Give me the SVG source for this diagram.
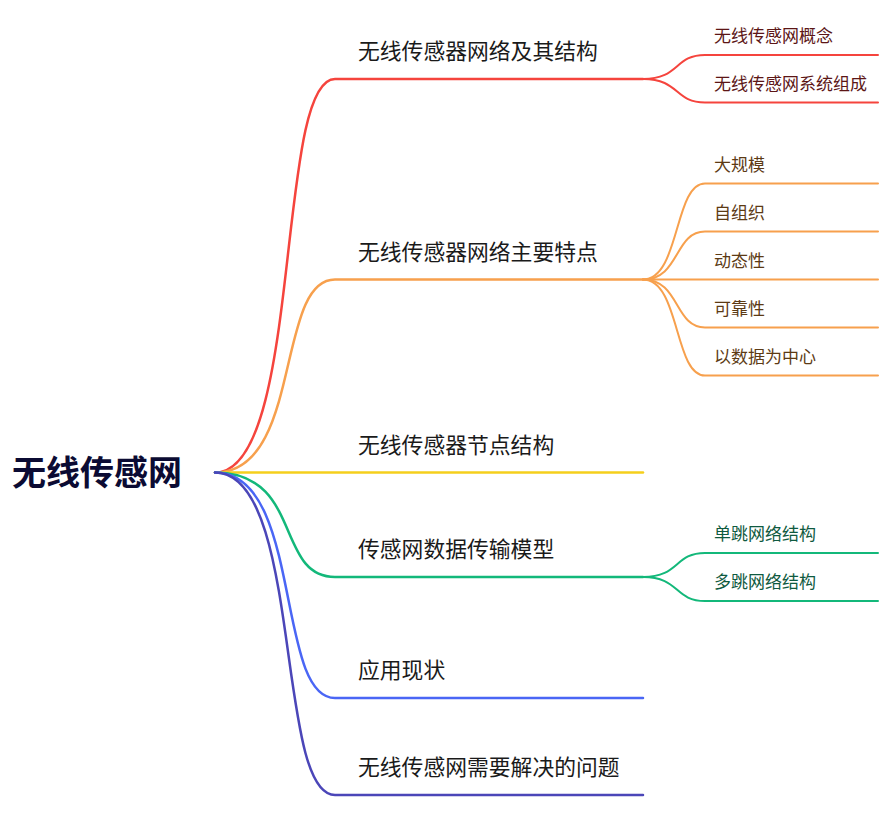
<svg xmlns="http://www.w3.org/2000/svg" width="896" height="836" viewBox="0 0 896 836">
<style>
text{font-family:"Noto Sans CJK SC","Noto Sans",sans-serif}
.root{font-size:34px;font-weight:bold;fill:#0b0b33}
.br{font-size:21.8px;fill:#1a1a1a}
.lf{font-size:17px}
.lr{fill:#5c1616}
.lo{fill:#5c3a14}
.lg{fill:#0f5a40}
path{fill:none;stroke-linecap:round}
.m{stroke-width:2.5}
.s{stroke-width:2}
.cr{stroke:#f5443d}
.co{stroke:#f7a04d}
.cy{stroke:#f5cf1c}
.cg{stroke:#13b87a}
.cb{stroke:#4a66f5}
.ci{stroke:#4b46b8}
</style>
<rect width="896" height="836" fill="#ffffff"/>
<g id="connectors">
<path class="m cr" d="M215,472.5 C303,472.5 275,79 335,79 L643,79"/>
<path class="m co" d="M215,472.5 C303,472.5 275,279.5 335,279.5 L643,279.5"/>
<path class="m cy" d="M215,472.5 L643,472.5"/>
<path class="m cg" d="M215,472.5 C303,472.5 275,577 335,577 L643,577"/>
<path class="m cb" d="M215,472.5 C303,472.5 275,698 335,698 L643,698"/>
<path class="m ci" d="M215,472.5 C303,472.5 275,795 335,795 L643,795"/>
<path class="s cr" d="M643,79 C680,79 674,55 705,55 L878,55"/>
<path class="s cr" d="M643,79 C680,79 674,102.5 705,102.5 L878,102.5"/>
<path class="s co" d="M643,279.5 C680,279.5 674,183.5 705,183.5 L878,183.5"/>
<path class="s co" d="M643,279.5 C680,279.5 674,231.5 705,231.5 L878,231.5"/>
<path class="s co" d="M643,279.5 L878,279.5"/>
<path class="s co" d="M643,279.5 C680,279.5 674,327.5 705,327.5 L878,327.5"/>
<path class="s co" d="M643,279.5 C680,279.5 674,375.5 705,375.5 L878,375.5"/>
<path class="s cg" d="M643,577 C680,577 674,553 705,553 L878,553"/>
<path class="s cg" d="M643,577 C680,577 674,601 705,601 L878,601"/>
</g>
<g id="root"><text class="root" x="12" y="485">无线传感网</text></g>
<g id="n1"><text class="br" x="358" y="59">无线传感器网络及其结构</text></g>
<g id="n1a"><text class="lf lr" x="714" y="42">无线传感网概念</text></g>
<g id="n1b"><text class="lf lr" x="714" y="89.5">无线传感网系统组成</text></g>
<g id="n2"><text class="br" x="358" y="259.5">无线传感器网络主要特点</text></g>
<g id="n2a"><text class="lf lo" x="714" y="170.5">大规模</text></g>
<g id="n2b"><text class="lf lo" x="714" y="218.5">自组织</text></g>
<g id="n2c"><text class="lf lo" x="714" y="266.5">动态性</text></g>
<g id="n2d"><text class="lf lo" x="714" y="314.5">可靠性</text></g>
<g id="n2e"><text class="lf lo" x="714" y="362.5">以数据为中心</text></g>
<g id="n3"><text class="br" x="358" y="452.5">无线传感器节点结构</text></g>
<g id="n4"><text class="br" x="358" y="557">传感网数据传输模型</text></g>
<g id="n4a"><text class="lf lg" x="714" y="540">单跳网络结构</text></g>
<g id="n4b"><text class="lf lg" x="714" y="588">多跳网络结构</text></g>
<g id="n5"><text class="br" x="358" y="678">应用现状</text></g>
<g id="n6"><text class="br" x="358" y="775">无线传感网需要解决的问题</text></g>
</svg>
